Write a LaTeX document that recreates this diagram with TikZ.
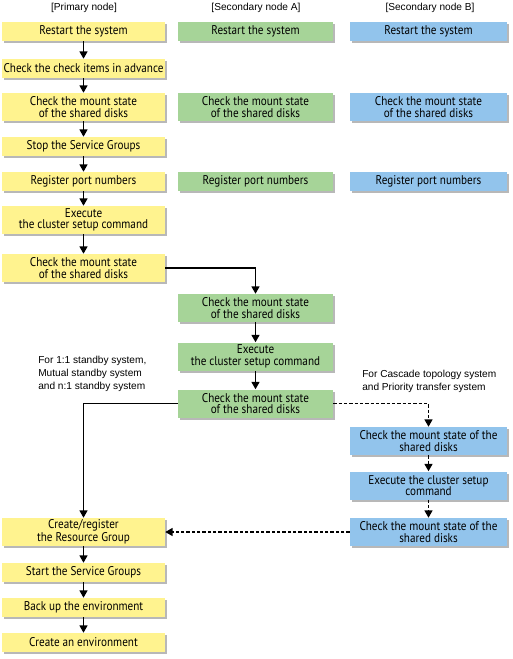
\documentclass[tikz,border=0pt]{standalone}
\usepackage{fontspec}
\setmainfont[FakeStretch=0.88]{PT Sans}
\newfontfamily\hdfont{Liberation Sans}
\usetikzlibrary{arrows.meta,shadows}
\definecolor{ylw}{RGB}{255,243,143}
\definecolor{grn}{RGB}{166,212,152}
\definecolor{blu}{RGB}{146,196,236}
\begin{document}
\begin{tikzpicture}[x=0.75pt,y=-0.75pt,
  box/.style={draw=none, align=center, inner sep=0pt, font=\fontsize{9.5}{8.6}\selectfont,
    drop shadow={shadow xshift=1.5pt, shadow yshift=-1.5pt, fill=black!28, opacity=1}},
  pbox/.style={box, fill=ylw, minimum width=122.25pt},
  abox/.style={box, fill=grn, minimum width=116.25pt},
  bbox/.style={box, fill=blu, minimum width=117.75pt},
  one/.style={minimum height=14.25pt},
  two/.style={minimum height=21pt},
  hd/.style={font=\hdfont\fontsize{7.6}{9.6}\selectfont, inner sep=0pt},
  arr/.style={line width=1pt, -{Triangle[length=5.5pt,width=6pt]}},
  darr/.style={arr, dash pattern=on 2.5pt off 1.5pt}
]
\useasboundingbox (0,0) rectangle (512,659);
\node[hd] (h1) at (84,8) {[Primary node]};
\node[hd] (h2) at (256,8) {[Secondary node A]};
\node[hd] (h3) at (430,8) {[Secondary node B]};

\node[pbox,one] (p1) at (83.5,31.5) {Restart the system};
\node[pbox,one] (p2) at (83.5,68.5) {Check the check items in advance};
\node[pbox,two] (p3) at (83.5,107) {Check the mount state\\of the shared disks};
\node[pbox,one] (p4) at (83.5,146.5) {Stop the Service Groups};
\node[pbox,one] (p5) at (83.5,181.5) {Register port numbers};
\node[pbox,two] (p6) at (83.5,220) {Execute\\the cluster setup command};
\node[pbox,two] (p7) at (83.5,268) {Check the mount state\\of the shared disks};
\node[pbox,two] (p8) at (83.5,532) {Create/register\\the Resource Group};
\node[pbox,one] (p9) at (83.5,572.5) {Start the Service Groups};
\node[pbox,one] (p10) at (83.5,607.5) {Back up the environment};
\node[pbox,one] (p11) at (83.5,642.5) {Create an environment};

\node[abox,one] (a1) at (255.5,31.5) {Restart the system};
\node[abox,two] (a2) at (255.5,107) {Check the mount state\\of the shared disks};
\node[abox,one] (a3) at (255.5,181.5) {Register port numbers};
\node[abox,two] (a4) at (255.5,308) {Check the mount state\\of the shared disks};
\node[abox,two] (a5) at (255.5,356.5) {Execute\\the cluster setup command};
\node[abox,two] (a6) at (255.5,403.5) {Check the mount state\\of the shared disks};

\node[bbox,one] (b1) at (428.5,31.5) {Restart the system};
\node[bbox,two] (b2) at (428.5,107) {Check the mount state\\of the shared disks};
\node[bbox,one] (b3) at (428.5,181.5) {Register port numbers};
\node[bbox,two] (b4) at (428.5,441) {Check the mount state of the\\shared disks};
\node[bbox,two] (b5) at (428.5,485.5) {Execute the cluster setup\\command};
\node[bbox,two] (b6) at (428.5,532) {Check the mount state of the\\shared disks};

\node[hd, anchor=north west, align=left] (l1) at (38,356) {For 1:1 standby system,\\Mutual standby system\\and n:1 standby system};
\node[hd, anchor=north west, align=left] (l2) at (362,370) {For Cascade topology system\\and Priority transfer system};

\draw[arr] (p1) -- (p2);
\draw[arr] (p2) -- (p3);
\draw[arr] (p3) -- (p4);
\draw[arr] (p4) -- (p5);
\draw[arr] (p5) -- (p6);
\draw[arr] (p6) -- (p7);
\draw[arr] (p7.east) -| (a4.north);
\draw[arr] (a4) -- (a5);
\draw[arr] (a5) -- (a6);
\draw[arr] (a6.west) -| (p8.north);
\draw[darr] (a6.east) -| (b4.north);
\draw[darr] (b4) -- (b5);
\draw[darr] (b5) -- (b6);
\draw[darr] (b6.west) -- (p8.east);
\draw[arr] (p8) -- (p9);
\draw[arr] (p9) -- (p10);
\draw[arr] (p10) -- (p11);
\end{tikzpicture}
\end{document}
